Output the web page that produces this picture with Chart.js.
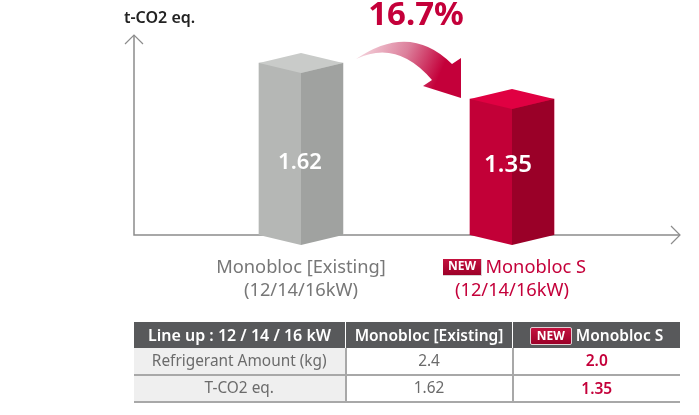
<!DOCTYPE html>
<html><head><meta charset="utf-8">
<script src="https://cdn.jsdelivr.net/npm/chart.js@4"></script>
<style>
html,body{margin:0;padding:0;background:#fff;overflow:hidden}
#wrap{position:relative;width:699px;height:415px;font-family:"Noto Sans",sans-serif}
canvas{position:absolute;left:0;top:0}
#tbl{position:absolute;left:134px;top:322px;width:546px;border-collapse:collapse;table-layout:fixed;font-size:15.4px;color:#6b6b6b}
#tbl th{background:#58595b;color:#fff;font-weight:600;height:26px;padding:0;font-size:15.5px;border-left:1.5px solid #fff}
#tbl th:first-child{border-left:0;font-size:16px}
#tbl td{padding:0 0 2px;box-sizing:border-box;height:27px;text-align:center;border-left:2px solid #a8a8a8;border-bottom:2px solid #a8a8a8}
#tbl td:first-child{background:#efefef;border-left:0}
#tbl td.n{color:#c4003a;font-weight:600;font-size:15.5px}
.new{display:inline-block;background:linear-gradient(#c4123f,#9c0028);color:#fff;font-size:12px;font-weight:700;line-height:16px;padding:0 6px;border-radius:2px;border:1px solid #e0d0d4;margin-right:4px;vertical-align:1px}
</style></head>
<body><div id="wrap"><canvas id="c" width="699" height="415"></canvas>
<table id="tbl"><colgroup><col style="width:211.5px"><col style="width:167px"><col style="width:167.5px"></colgroup>
<thead><tr id="hd"></tr></thead><tbody id="bd"></tbody></table></div>
<script>
const categories=["Monobloc [Existing]","Monobloc S"];
const capacityLabel="(12/14/16kW)";
const co2Values=[1.62,1.35];
const reduction="16.7%";
const yTitle="t-CO2 eq.";
const tableHead=["Line up : 12 / 14 / 16 kW","Monobloc [Existing]","Monobloc S"];
const refrigerantRow=["Refrigerant Amount (kg)","2.4","2.0"];
const co2Row=["T-CO2 eq.","1.62","1.35"];
const GRAY=["#b5b7b5","#a0a2a0","#c9cbc9"],RED=["#c20037","#9a0028","#e00042"];
const FONT='"Noto Sans",sans-serif';
const yMin=0.33,yMax=1.83;

hd.innerHTML=tableHead.map((t,i)=>`<th>${i==2?'<span class="new">NEW</span>':''}${t}</th>`).join('');
bd.innerHTML=[refrigerantRow,co2Row].map(r=>`<tr>${r.map((t,i)=>`<td class="${i==2?'n':''}">${t}</td>`).join('')}</tr>`).join('');

function poly(ctx,pts,fill){ctx.beginPath();pts.forEach((p,i)=>i?ctx.lineTo(p[0],p[1]):ctx.moveTo(p[0],p[1]));ctx.closePath();ctx.fillStyle=fill;ctx.fill();}

const deco={id:'deco',
 beforeDatasetsDraw(chart){
  const {ctx,chartArea:a}=chart;const b=a.bottom,L=134,R=680,T=35;
  ctx.save();ctx.strokeStyle='#8c8c8c';ctx.lineWidth=1.5;ctx.beginPath();
  ctx.moveTo(L,T);ctx.lineTo(L,b);ctx.lineTo(R,b);ctx.stroke();
  ctx.lineWidth=1.2;ctx.beginPath();
  ctx.moveTo(L-9,T+9);ctx.lineTo(L,T);ctx.lineTo(L+9,T+9);
  ctx.moveTo(R-9,b-9);ctx.lineTo(R,b);ctx.lineTo(R-9,b+9);ctx.stroke();
  ctx.restore();
 },
 afterDatasetsDraw(chart){
  const {ctx}=chart;const els=chart.getDatasetMeta(0).data;
  ctx.save();
  els.forEach((el,i)=>{
   const c=i?RED:GRAY,x=el.x,hw=el.width/2,y=el.y,base=el.base,d=10;
   poly(ctx,[[x-hw,base-1],[x,base-1],[x,base+d],[x-hw,base]],c[0]);
   poly(ctx,[[x,y+d],[x+hw,y],[x+hw,base],[x,base+d]],c[1]);
   poly(ctx,[[x-hw,y],[x,y-d],[x+hw,y],[x,y+d]],c[2]);
   ctx.font='600 '+(i?24:22)+'px '+FONT;ctx.fillStyle='#fff';ctx.textAlign='center';ctx.textBaseline='middle';
   ctx.fillText(co2Values[i].toFixed(2),x-(i?4:1),i?165:163);
  });
  ctx.textAlign='left';ctx.textBaseline='middle';ctx.fillStyle='#222';ctx.font='600 16px '+FONT;
  ctx.fillText(yTitle,124,18);
  ctx.fillStyle='#c4003a';ctx.font='700 33px '+FONT;ctx.textAlign='center';
  ctx.fillText(reduction,416,16);
  const g=ctx.createLinearGradient(360,50,440,85);
  g.addColorStop(0,'#f4d3dc');g.addColorStop(0.5,'#dc7f9b');g.addColorStop(0.95,'#c4003a');
  ctx.beginPath();ctx.moveTo(356,59);
  ctx.quadraticCurveTo(410,22,452,64);ctx.lineTo(461,58);ctx.lineTo(461,98);ctx.lineTo(423,86);ctx.lineTo(432,80);
  ctx.quadraticCurveTo(397,39,356,59);ctx.closePath();ctx.fillStyle=g;ctx.fill();
  const bg=ctx.createLinearGradient(0,259,0,275);bg.addColorStop(0,'#c4123f');bg.addColorStop(1,'#9c0028');
  ctx.fillStyle='#d9d2d4';ctx.fillRect(443,259,39,17);
  ctx.fillStyle=bg;ctx.fillRect(443,259,38,16);
  ctx.fillStyle='#fff';ctx.font='700 12px '+FONT;ctx.textAlign='center';ctx.fillText('NEW',462,267);
  ctx.restore();
 }};

new Chart(document.getElementById('c'),{type:'bar',
 data:{labels:categories,datasets:[{label:yTitle,data:co2Values,base:yMin,backgroundColor:[GRAY[0],RED[0]],barThickness:84,borderWidth:0}]},
 options:{responsive:false,animation:false,
  layout:{padding:{left:195.5,right:81.5,top:35,bottom:92}},
  plugins:{legend:{display:false},tooltip:{enabled:false}},
  scales:{
   y:{display:false,min:yMin,max:yMax},
   x:{grid:{display:false,drawTicks:false},border:{display:false},
    ticks:{padding:21,maxRotation:0,autoSkip:false,font:{family:FONT,size:18.3,lineHeight:23/18.3},
     color:c=>c.index?'#c4003a':'#777',
     callback(v,i){return [(i?'\u00A0'.repeat(10):'')+categories[i],capacityLabel];}}}
  }},plugins:[deco]});
</script></body></html>
